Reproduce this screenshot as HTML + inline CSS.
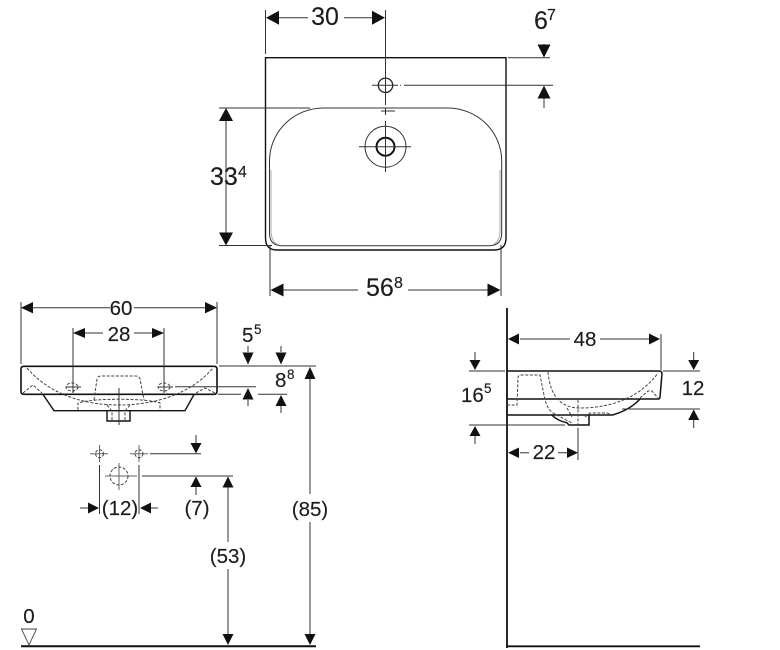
<!DOCTYPE html>
<html><head><meta charset="utf-8"><style>
html,body{margin:0;padding:0;background:#fff}
svg{display:block;filter:blur(.3px)}
text{font-family:"Liberation Sans",sans-serif;fill:#1c1c1c;stroke:#1c1c1c;stroke-width:.15}
.d{fill:none;stroke:#333;stroke-width:1}
.k{fill:none;stroke:#111;stroke-width:1.6}
.h{fill:none;stroke:#444;stroke-width:1;stroke-dasharray:3 1.6}
.a{fill:#111;stroke:none}
.c{fill:none;stroke:#666;stroke-width:1}
.t{font-size:25px}.s{font-size:16px}.m{font-size:20.5px}.n{font-size:13.5px}
</style></head><body>
<svg width="780" height="650" viewBox="0 0 780 650" xmlns="http://www.w3.org/2000/svg">
<!-- TOP VIEW -->
<path class="k" d="M265.5 57.7H506V238Q506 250 494 250H277Q265.5 250 265.5 238Z" style="stroke-width:1.4"/>
<path class="d" d="M269.5 161A54 53 0 0 1 323.5 108H448A54 53 0 0 1 501.7 161V233Q501.7 245.7 489 245.7H282Q269.5 245.7 269.5 233Z"/>
<path class="c" d="M271 170V232Q272 243 279 245M500 170V232Q499 243 492 245" style="stroke:#aaa"/>
<circle cx="385.5" cy="85.3" r="7.2" fill="none" stroke="#222" stroke-width="1.3"/>
<circle cx="385.5" cy="146.7" r="20.5" class="d"/>
<circle cx="385.5" cy="146.7" r="9" fill="none" stroke="#111" stroke-width="2"/>
<path class="d" d="M372 85.3H398M385.5 10V105M381 111H395M385.5 108V115M385.5 121V172M359 146.7H411"/>
<path class="d" d="M265.5 10V54M400 85.3H401M404 85.3H553M508 57.7H550M219 108H310M219 245.5H272M270 245V296M501 245V296"/>
<path class="d" d="M278 17.7H308M344 17.7H373M544 44V57M544 97V108M226 120V234M283 290H358M408 290H489"/>
<polygon class="a" points="266,17.7 279,10.7 279,24.7"/><polygon class="a" points="385,17.7 372,10.7 372,24.7"/>
<polygon class="a" points="544,57.5 537.5,44.5 550.5,44.5"/><polygon class="a" points="544,85.5 537.5,98.5 550.5,98.5"/>
<polygon class="a" points="226,108 219,121 233,121"/><polygon class="a" points="226,245.5 219,232.5 233,232.5"/>
<polygon class="a" points="270.5,290 283.5,283.5 283.5,296.5"/><polygon class="a" points="500.5,290 487.5,283.5 487.5,296.5"/>
<text class="t" x="325" y="25" text-anchor="middle">30</text>
<text class="t" x="534" y="29">6</text><text class="s" x="547" y="20">7</text>
<text class="t" x="210" y="185">33</text><text class="s" x="238" y="177">4</text>
<text class="t" x="366" y="296">56</text><text class="s" x="394" y="288">8</text>

<!-- FRONT VIEW -->
<path class="k" d="M24 366.3H214Q217 366.3 217 369V391.5Q217 394.3 214 394.3H24Q21 394.3 21 391.5V369Q21 366.3 24 366.3Z"/>
<path class="k" d="M43 394.5L54 410.7H185L194 394.5" style="stroke-width:1.4"/>
<path class="k" d="M107 410.7V421H130V410.7" style="stroke-width:1.4"/>
<path class="h" d="M27 368C50 395 85 405 119 405C153 405 190 395 213 368"/>
<path class="h" d="M78 410V403C92 398 146 398 160 403V410"/>
<path class="h" d="M94 400L97 379Q98 376 101 376H136Q139 376 140 379L144 400"/>
<path class="h" d="M23 393L33 385L42 393M196 393L205 388L215 393"/>
<path class="h" d="M107 405L112 411V421M130 405L125 411V421"/>
<ellipse class="h" cx="72" cy="387" rx="6" ry="4" stroke-dasharray="2 1"/><ellipse class="h" cx="164" cy="387" rx="6" ry="4" stroke-dasharray="2 1"/>
<path class="d" d="M66 387H81M158 387H173M119 388V425"/>
<path class="d" d="M21 302V364M217 302V364M73 328V393M164 328V393M175 386.7H256M219 366H316M218 394.3H241M258 394.3H287"/>
<path class="d" d="M32 307.7H110M134 307.7H206M85 333H103M134 333H153M248 346V352M248 400V406M281 346V352M281 406V413"/>
<polygon class="a" points="21,307.7 33,302 33,313.4"/><polygon class="a" points="217,307.7 205,302 205,313.4"/>
<polygon class="a" points="73,333 85,328 85,338"/><polygon class="a" points="164,333 152,328 152,338"/>
<polygon class="a" points="248,364.5 242.5,352.5 253.5,352.5"/><polygon class="a" points="248,388 242.5,399.5 253.5,399.5"/>
<polygon class="a" points="281,364.5 275.5,352.5 286.5,352.5"/><polygon class="a" points="281,395 275.5,406 286.5,406"/>
<text class="m" x="121" y="315" text-anchor="middle">60</text>
<text class="m" x="119" y="341" text-anchor="middle">28</text>
<text class="m" x="242" y="342">5</text><text class="n" x="254" y="334">5</text>
<text class="m" x="275" y="387">8</text><text class="n" x="287" y="379">8</text>

<!-- INSTALL POINTS -->
<path class="c" d="M90 453.7H108M99.5 445V462M130 453.7H148M139 445V462M105 476H137M119 463V490"/>
<circle class="h" cx="99.5" cy="453.7" r="4" stroke-dasharray="1.5 1.2"/><circle class="h" cx="139" cy="453.7" r="4" stroke-dasharray="1.5 1.2"/>
<circle class="h" cx="119" cy="476" r="9" stroke-dasharray="2 1.5"/>
<path class="d" d="M99.5 465V514M139 465V514M150 453.7H201M142 476H233M80 508H90M151 508H158M196 435V444M196 487V495"/>
<polygon class="a" points="99,508 88,502.5 88,513.5"/><polygon class="a" points="140,508 151,502.5 151,513.5"/>
<polygon class="a" points="196,453.5 190.5,443 201.5,443"/><polygon class="a" points="196,476.5 190.5,487 201.5,487"/>
<text class="m" x="120" y="515" text-anchor="middle">(12)</text>
<text class="m" x="197" y="515" text-anchor="middle">(7)</text>

<!-- HEIGHTS -->
<path class="d" d="M228 487V542M228 569V634M310 379V494M310 522V634"/>
<polygon class="a" points="228,476.5 222.5,487.5 233.5,487.5"/><polygon class="a" points="228,645 222.5,634 233.5,634"/>
<polygon class="a" points="310,367 304.5,379 315.5,379"/><polygon class="a" points="310,645 304.5,634 315.5,634"/>
<text class="m" x="228" y="563" text-anchor="middle">(53)</text>
<text class="m" x="310" y="516" text-anchor="middle">(85)</text>
<text class="m" x="29" y="623" text-anchor="middle">0</text>
<polygon points="21.5,629 36.5,629 29,645" fill="#fff" stroke="#444" stroke-width=".9"/>
<path d="M21 646.3H316" stroke="#111" stroke-width="2" fill="none"/>

<!-- SIDE VIEW -->
<path d="M507 308V648M507 646.3H700" stroke="#111" stroke-width="1.8" fill="none"/>
<path class="k" d="M507 371H659Q662 371 662 373.5L660 397Q660 399 658 399H507" style="stroke-width:1.5"/>
<path class="k" d="M507 415H612.5Q630 410 640 399M551.7 415Q558 421 566.7 422.7L569 425H589V415" style="stroke-width:1.5"/>
<path class="h" d="M507 405H517L518 378Q518 375 521 375H540L545 400Q548 411 555 414L572 423"/>
<path class="h" d="M548 372C550 395 560 408 580 408C610 408 640 398 658 373"/>
<path class="h" d="M640 398L648 391L652 391L658 398M567 408L572 417M585 417L590 413H607L613 415"/>
<path class="d" d="M661 334V370M469 371H505M469 425H565M663 371H700M622 409H700" />
<path class="h" d="M578 400V428" stroke-dasharray="5 2"/>
<path class="d" d="M578 428V460M520 339H570M600 339H650M475 352V360M475 436V444M693.7 352V360M693.7 420V428M520 452.7H529M558 452.7H567"/>
<polygon class="a" points="508,339 519,333.5 519,344.5"/><polygon class="a" points="660,339 649,333.5 649,344.5"/>
<polygon class="a" points="508,452.7 519,447.5 519,458"/><polygon class="a" points="578,452.7 567,447.5 567,458"/>
<polygon class="a" points="475,370 469.5,360 480.5,360"/><polygon class="a" points="475,426 469.5,436 480.5,436"/>
<polygon class="a" points="693.7,370 688.2,360 699.2,360"/><polygon class="a" points="693.7,409.5 688.2,420 699.2,420"/>
<text class="m" x="585" y="346" text-anchor="middle">48</text>
<text class="m" x="544" y="459" text-anchor="middle">22</text>
<text class="m" x="693" y="395" text-anchor="middle">12</text>
<text class="m" x="461" y="402">16</text><text class="n" x="484" y="393">5</text>
</svg>
</body></html>
